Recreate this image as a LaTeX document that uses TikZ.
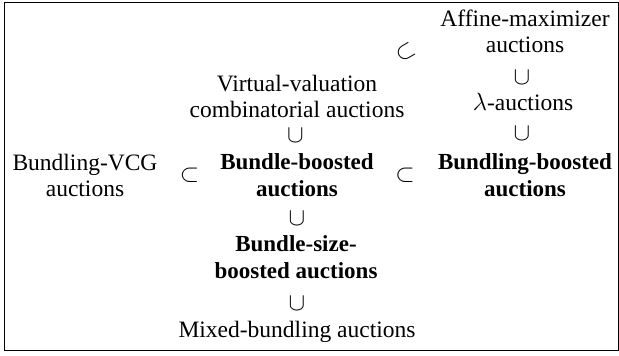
\documentclass[tikz,border=0pt]{standalone}
\usepackage{fontspec}
\setmainfont{Liberation Serif}
\begin{document}
\begin{tikzpicture}[x=1pt,y=-1pt,
  lbl/.style={inner sep=0pt,align=center,font=\fontsize{23.5}{26}\selectfont,anchor=base},
  blbl/.style={lbl,font=\fontsize{23}{27}\selectfont\bfseries},
  rel/.style={inner sep=0pt,font=\fontsize{23.5}{26}\selectfont}]
\useasboundingbox (0,0) rectangle (619,356);
\draw[line width=0.9pt] (4.5,2.5) rectangle (618.5,350.5);
% right column
\node[lbl] (am) at (525,52) {Affine-maximizer\\auctions};
\node[lbl] (la) at (523,110) {$\lambda$-auctions};
\node[blbl] (bb) at (525,196) {Bundling-boosted\\auctions};
% middle column
\node[lbl] (vv) at (297,117) {Virtual-valuation\\combinatorial auctions};
\node[blbl] (bo) at (297,196) {Bundle-boosted\\auctions};
\node[blbl] (bs) at (296,278) {Bundle-size-\\boosted auctions};
\node[lbl] (mb) at (297,337) {Mixed-bundling auctions};
% left column
\node[lbl] (vcg) at (85,196) {Bundling-VCG\\auctions};
% relations
\node[rel] (r1) at (522,78) {$\cup$};
\node[rel] (r2) at (522,134) {$\cup$};
\node[rel,rotate=30] (r3) at (406,52) {$\subset$};
\node[rel] (r4) at (295.5,136) {$\cup$};
\node[rel] (r5) at (405,175) {$\subset$};
\node[rel] (r6) at (189.5,175) {$\subset$};
\node[rel] (r7) at (297,219) {$\cup$};
\node[rel] (r8) at (297,304) {$\cup$};
\end{tikzpicture}
\end{document}
